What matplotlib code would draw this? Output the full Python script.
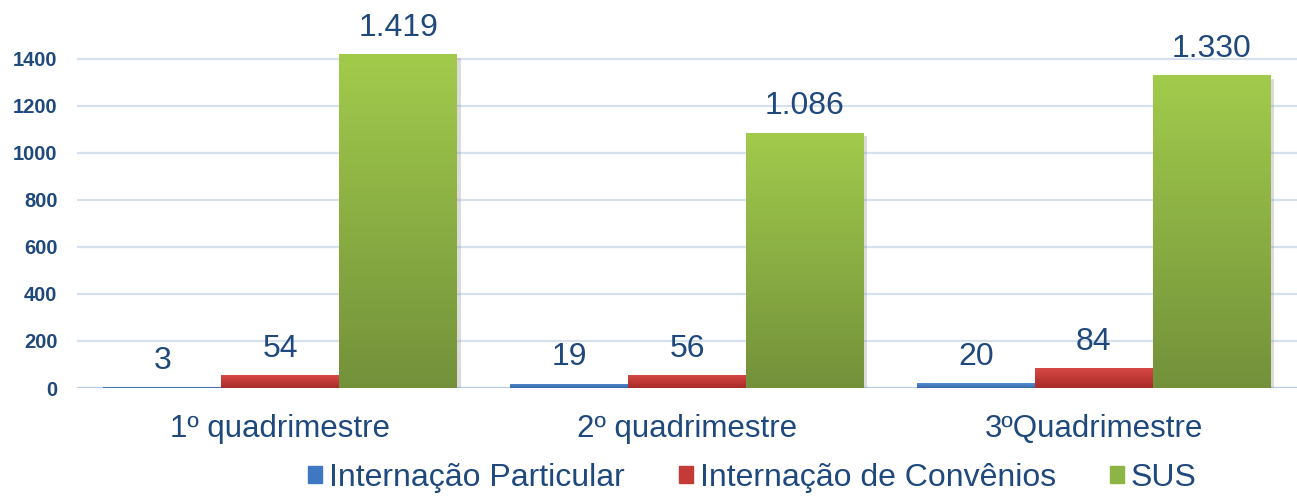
import numpy as np
import matplotlib
matplotlib.use("Agg")
import matplotlib.pyplot as plt
import matplotlib.patheffects as pe
from matplotlib.colors import LinearSegmentedColormap

plt.rcParams['font.family'] = ['Liberation Sans', 'DejaVu Sans']

categories = ["1º quadrimestre", "2º quadrimestre", "3ºQuadrimestre"]
series_names = ["Internação Particular", "Internação de Convênios", "SUS"]
particular = [3, 19, 20]
convenios = [54, 56, 84]
sus = [1419, 1086, 1330]
labels_sus = ["1.419", "1.086", "1.330"]

TEXT = "#1F497D"
GRID = "#D6E1F0"
# (top, bottom) gradient colours per series
GRADS = [("#5590D6", "#3767A8"), ("#D84844", "#A82C29"), ("#A2CB4C", "#73913A")]
LEG = ["#3F78C2", "#C43A36", "#8DB543"]

fig = plt.figure(figsize=(12.97, 4.97), dpi=100, facecolor="white")
ax = fig.add_axes([0.0594, 0.2193, 0.9406, 0.7525])

x = np.arange(len(categories))
w = 0.29
ymax = 1590
grad = np.linspace(1, 0, 256).reshape(-1, 1)

all_series = [particular, convenios, sus]
for si, vals in enumerate(all_series):
    off = (si - 1) * w
    cmap = LinearSegmentedColormap.from_list("g%d" % si, [GRADS[si][1], GRADS[si][0]])
    bars = ax.bar(x + off, vals, w, color=GRADS[si][0], zorder=3,
                  path_effects=[pe.SimplePatchShadow(offset=(2.5, -2.5), shadow_rgbFace="#999999", alpha=0.35),
                                pe.Normal()])
    for i, b in enumerate(bars):
        bx, bw, bh = b.get_x(), b.get_width(), b.get_height()
        im = ax.imshow(grad, cmap=cmap, aspect="auto", zorder=4,
                       extent=[bx, bx + bw, 0, max(bh, 1)], vmin=0, vmax=1)
        im.set_clip_path(b)
        txt = labels_sus[i] if si == 2 else str(vals[i])
        ax.annotate(txt, (bx + bw / 2, bh), xytext=(0, 8), textcoords="offset points",
                    ha="center", va="bottom", fontsize=23, color=TEXT, zorder=6)

ax.set_xlim(-0.5, len(categories) - 0.5)
ax.set_ylim(0, ymax)
ax.set_yticks(np.arange(0, 1401, 200))
ax.yaxis.grid(True, color=GRID, lw=1.6, zorder=0)
ax.set_axisbelow(True)
for s in ax.spines.values():
    s.set_visible(False)
ax.axhline(0, color="#B9CCE4", lw=1.6, zorder=2)
ax.tick_params(axis="y", length=0, pad=14, labelsize=14.5, labelcolor=TEXT)
for t in ax.get_yticklabels():
    t.set_fontweight("bold")
ax.set_xticks(x)
ax.set_xticklabels(categories, fontsize=22.5, color=TEXT)
ax.tick_params(axis="x", length=0, pad=19)

handles = [plt.Rectangle((0, 0), 1, 1, color=c) for c in LEG]
fig.legend(handles, series_names, loc="lower center", bbox_to_anchor=(0.58, -0.05),
           ncol=3, frameon=False, fontsize=23, labelcolor=TEXT,
           handlelength=0.45, handleheight=0.45, handletextpad=0.2, columnspacing=1.7)

fig.savefig("out.png", dpi=100, facecolor="white")
